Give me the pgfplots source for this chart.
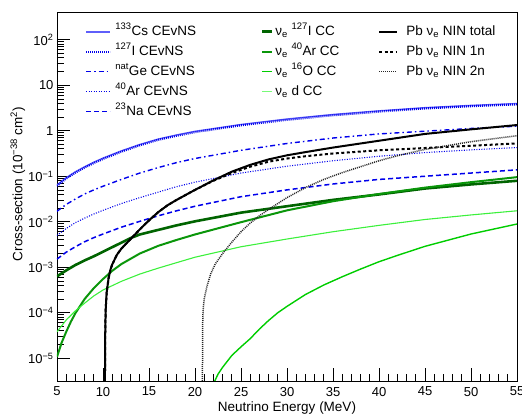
\documentclass[border=0pt]{standalone}
\usepackage{fontspec}
\setmainfont{Liberation Sans}
\usepackage{pgfplots}
\pgfplotsset{compat=1.18}
\usetikzlibrary{calc}

\definecolor{csblue}{RGB}{95,95,250}
\definecolor{iblue}{RGB}{0,0,235}
\definecolor{ngreen}{RGB}{0,100,0}
\definecolor{argreen}{RGB}{10,150,10}
\definecolor{ogreen}{RGB}{0,205,0}
\definecolor{dgreen}{RGB}{60,240,60}

\begin{document}
\begin{tikzpicture}[font=\fontsize{13}{15}\selectfont]
% main axis with CEvNS curves
\begin{axis}[
  name=main,
  scale only axis, width=460pt, height=369pt,
  xmin=5, xmax=55, ymode=log, ymin=3.16e-6, ymax=407,
  xtick={5,10,...,55}, minor x tick num=4,
  ytick={1e-5,1e-4,1e-3,1e-2,1e-1,1,10,100},
  yticklabels={10\textsuperscript{−5},10\textsuperscript{−4},10\textsuperscript{−3},10\textsuperscript{−2},10\textsuperscript{−1},1,10,10\textsuperscript{2}},
  xtick pos=bottom, ytick pos=left, tick align=inside,
  major tick length=13pt, minor tick length=7pt,
  every tick/.style={black, line width=0.7pt},
  axis line style={line width=0.8pt},
  xticklabel style={yshift=-2.5pt},
  /pgf/number format/assume math mode=true,
  xlabel={Neutrino Energy (MeV)},
  ylabel={Cross-section (10\textsuperscript{−38} cm\textsuperscript{2})},
  xlabel style={at={(axis description cs:0.5,-0.073)}, anchor=center, font=\fontsize{13.5}{16}\selectfont},
  ylabel style={at={(axis description cs:-0.085,0.534)}, anchor=center, font=\fontsize{13.5}{16}\selectfont},
  legend cell align=left,
  legend style={at={(axis description cs:0.061,0.967)}, anchor=north west,
    draw=none, fill=none, inner sep=0pt, outer sep=0pt, row sep=5pt, column sep=0pt,
    nodes={inner sep=0pt, text height=11pt, text depth=4pt}, font=\fontsize{13.5}{15}\selectfont},
]
\addplot[color=csblue, line width=1.4pt, forget plot] coordinates {
(5,0.0642)(6,0.0927)(7,0.125)(8,0.161)(9,0.203)(10,0.250)(12,0.361)(14,0.498)(16,0.656)(18,0.807)(20,0.970)(25,1.371)(30,1.808)(35,2.276)(40,2.735)(45,3.214)(50,3.606)(55,3.954)};
\addplot[color=iblue, line width=2.2pt, dash pattern=on 0.9pt off 1.1pt, forget plot] coordinates {
(5,0.0617)(6,0.0891)(7,0.120)(8,0.155)(9,0.195)(10,0.240)(12,0.347)(14,0.479)(16,0.631)(18,0.776)(20,0.933)(25,1.318)(30,1.738)(35,2.188)(40,2.630)(45,3.090)(50,3.467)(55,3.802)};
\addplot[color=iblue, line width=1.4pt, dash pattern=on 5pt off 3pt on 1.5pt off 3pt, forget plot] coordinates {
(5,0.0170)(6,0.0240)(7,0.0316)(8,0.0407)(9,0.0501)(10,0.0603)(12,0.0851)(14,0.1175)(16,0.155)(18,0.1995)(20,0.2455)(25,0.3715)(30,0.5248)(35,0.6918)(40,0.8511)(45,0.977)(50,1.122)(55,1.259)};
\addplot[color=iblue, line width=1.1pt, dash pattern=on 1pt off 1.5pt, forget plot] coordinates {
(5,0.00501)(6,0.00708)(7,0.00955)(8,0.0120)(9,0.0148)(10,0.0178)(12,0.0251)(14,0.0339)(16,0.0447)(18,0.0589)(20,0.0741)(25,0.1175)(30,0.166)(35,0.219)(40,0.275)(45,0.331)(50,0.380)(55,0.427)};
\addplot[color=iblue, line width=1.5pt, dash pattern=on 5pt off 3pt, forget plot] coordinates {
(5,0.00151)(6,0.00214)(7,0.00282)(8,0.00363)(9,0.00447)(10,0.00537)(12,0.00759)(14,0.0102)(16,0.0135)(18,0.0174)(20,0.0219)(25,0.0355)(30,0.0501)(35,0.0676)(40,0.0851)(45,0.100)(50,0.1175)(55,0.138)};
\addlegendimage{legend image code/.code={\draw[draw=csblue, line width=2.0pt] (0pt,0pt) -- (24pt,0pt); \path (29pt,0pt);}}
\addlegendentry{\textsuperscript{133}Cs CEvNS}
\addlegendimage{legend image code/.code={\draw[draw=iblue, line width=2.2pt, dash pattern=on 0.9pt off 1.1pt] (0pt,0pt) -- (24pt,0pt); \path (29pt,0pt);}}
\addlegendentry{\textsuperscript{127}I CEvNS}
\addlegendimage{legend image code/.code={\draw[draw=iblue, line width=1.5pt, dash pattern=on 5pt off 3pt on 1.5pt off 3pt] (0pt,0pt) -- (24pt,0pt); \path (29pt,0pt);}}
\addlegendentry{\textsuperscript{nat}Ge CEvNS}
\addlegendimage{legend image code/.code={\draw[draw=iblue, line width=1.4pt, dash pattern=on 1pt off 1.5pt] (0pt,0pt) -- (24pt,0pt); \path (29pt,0pt);}}
\addlegendentry{\textsuperscript{40}Ar CEvNS}
\addlegendimage{legend image code/.code={\draw[draw=iblue, line width=1.6pt, dash pattern=on 5pt off 3pt] (0pt,0pt) -- (24pt,0pt); \path (29pt,0pt);}}
\addlegendentry{\textsuperscript{23}Na CEvNS}
\end{axis}

% overlay axis with CC curves
\begin{axis}[
  scale only axis, width=460pt, height=369pt, hide axis,
  xmin=5, xmax=55, ymode=log, ymin=3.16e-6, ymax=407,
  legend cell align=left,
  legend style={at={(axis description cs:0.443,0.967)}, anchor=north west,
    draw=none, fill=none, inner sep=0pt, outer sep=0pt, row sep=5pt, column sep=0pt,
    nodes={inner sep=0pt, text height=11pt, text depth=4pt}, font=\fontsize{13.5}{15}\selectfont},
]
\addplot[color=ngreen, line width=2.6pt, forget plot] coordinates {
(5,6.31e-4)(6,8.51e-4)(7,1.12e-3)(8,1.41e-3)(9,1.74e-3)(10,2.19e-3)(12,3.47e-3)(13,4.37e-3)(14,5.25e-3)(16,6.61e-3)(18,8.32e-3)(20,1.02e-2)(25,1.585e-2)(30,2.19e-2)(35,3.02e-2)(40,3.98e-2)(45,5.37e-2)(50,6.61e-2)(55,7.94e-2)};
\addplot[color=argreen, line width=2.0pt, forget plot] coordinates {
(5,1.07e-5)(5.5,2.19e-5)(6,3.80e-5)(6.5,6.31e-5)(7,9.77e-5)(8,2.00e-4)(9,3.47e-4)(10,5.50e-4)(11,8.32e-4)(12,1.175e-3)(14,2.00e-3)(16,2.95e-3)(18,3.98e-3)(20,5.25e-3)(25,9.77e-3)(30,1.78e-2)(35,2.82e-2)(40,4.07e-2)(45,5.62e-2)(50,7.41e-2)(55,9.55e-2)};
\addplot[color=ogreen, line width=1.4pt, forget plot] coordinates {
(22.0,2.0e-6)(22.15,3.16e-6)(22.5,4.47e-6)(23,6.31e-6)(24,1.15e-5)(25,1.78e-5)(26,2.69e-5)(27,4.37e-5)(28,6.76e-5)(29,1.0e-4)(30,1.38e-4)(32,2.51e-4)(34,4.07e-4)(36,6.17e-4)(38,9.12e-4)(40,1.32e-3)(42,1.82e-3)(45,2.88e-3)(50,5.37e-3)(55,8.91e-3)};
\addplot[color=dgreen, line width=1.1pt, forget plot] coordinates {
(5,3.80e-5)(6,6.92e-5)(7,1.10e-4)(8,1.62e-4)(9,2.34e-4)(10,3.16e-4)(12,4.90e-4)(14,7.08e-4)(16,9.55e-4)(18,1.26e-3)(20,1.66e-3)(25,2.82e-3)(30,4.17e-3)(35,6.03e-3)(40,8.32e-3)(45,1.12e-2)(50,1.41e-2)(55,1.74e-2)};
\addlegendimage{legend image code/.code={\draw[draw=ngreen, line width=2.6pt] (0pt,0pt) -- (10pt,0pt); \path (13pt,0pt);}}
\addlegendentry{ν\textsubscript{e} \textsuperscript{127}I CC}
\addlegendimage{legend image code/.code={\draw[draw=argreen, line width=2.0pt] (0pt,0pt) -- (10pt,0pt); \path (13pt,0pt);}}
\addlegendentry{ν\textsubscript{e} \textsuperscript{40}Ar CC}
\addlegendimage{legend image code/.code={\draw[draw=ogreen, line width=1.6pt] (0pt,0pt) -- (10pt,0pt); \path (13pt,0pt);}}
\addlegendentry{ν\textsubscript{e} \textsuperscript{16}O CC}
\addlegendimage{legend image code/.code={\draw[draw={rgb,255:red,120;green,250;blue,120}, line width=1.6pt] (0pt,0pt) -- (10pt,0pt); \path (13pt,0pt);}}
\addlegendentry{ν\textsubscript{e} d CC}
\end{axis}

% overlay axis with Pb NIN curves
\begin{axis}[
  scale only axis, width=460pt, height=369pt, hide axis,
  xmin=5, xmax=55, ymode=log, ymin=3.16e-6, ymax=407,
  legend cell align=left,
  legend style={at={(axis description cs:0.698,0.967)}, anchor=north west,
    draw=none, fill=none, inner sep=0pt, outer sep=0pt, row sep=5pt, column sep=0pt,
    nodes={inner sep=0pt, text height=11pt, text depth=4pt}, font=\fontsize{13.5}{15}\selectfont},
]
\addplot[color=black, line width=2.0pt, forget plot] coordinates {
(10.2,1e-7)(10.22,1e-5)(10.25,5.01e-5)(10.3,1.26e-4)(10.4,2.82e-4)(10.6,5.62e-4)(10.8,8.71e-4)(11.0,1.148e-3)(11.5,1.862e-3)(12,2.570e-3)(13,4.169e-3)(14,6.761e-3)(15,1.072e-2)(16,1.622e-2)(17,2.291e-2)(18,3.020e-2)(19,3.890e-2)(20,5.012e-2)(22,8.128e-2)(24,0.1259)(26,0.1778)(28,0.2344)(30,0.2884)(32,0.3388)(35,0.4266)(40,0.6026)(45,0.8511)(50,1.072)(55,1.334)};
\addplot[color=black, line width=2.0pt, dash pattern=on 3pt off 2.5pt, forget plot] coordinates {
(10.2,1e-7)(10.22,1e-5)(10.25,5.01e-5)(10.3,1.26e-4)(10.4,2.82e-4)(10.6,5.62e-4)(10.8,8.71e-4)(11.0,1.148e-3)(11.5,1.862e-3)(12,2.570e-3)(13,4.169e-3)(14,6.761e-3)(15,1.072e-2)(16,1.622e-2)(17,2.291e-2)(18,3.020e-2)(19,3.890e-2)(20,5.012e-2)(22,7.94e-2)(24,0.1175)(26,0.162)(28,0.209)(30,0.245)(32,0.275)(35,0.316)(40,0.372)(45,0.417)(50,0.468)(55,0.525)};
\addplot[color=black!85, line width=1.5pt, dash pattern=on 1pt off 1pt, forget plot] coordinates {
(20.8,1e-7)(20.82,3.16e-5)(20.85,7.94e-5)(20.9,1.26e-4)(21.0,2.00e-4)(21.3,3.80e-4)(21.7,7.08e-4)(22.2,1.175e-3)(23.0,2.00e-3)(24,3.55e-3)(25,6.03e-3)(26,9.33e-3)(27,1.35e-2)(28,1.86e-2)(30,3.39e-2)(32,5.62e-2)(34,8.51e-2)(36,0.120)(38,0.162)(40,0.219)(42,0.282)(45,0.389)(50,0.575)(55,0.776)};
\addlegendimage{legend image code/.code={\draw[draw=black, line width=2.2pt] (0pt,0pt) -- (18pt,0pt); \path (27pt,0pt);}}
\addlegendentry{Pb ν\textsubscript{e} NIN total}
\addlegendimage{legend image code/.code={\draw[draw=black, line width=2.2pt, dash pattern=on 3pt off 2.5pt] (0pt,0pt) -- (18pt,0pt); \path (27pt,0pt);}}
\addlegendentry{Pb ν\textsubscript{e} NIN 1n}
\addlegendimage{legend image code/.code={\draw[draw=black!85, line width=1.5pt, dash pattern=on 1pt off 1pt] (0pt,0pt) -- (18pt,0pt); \path (27pt,0pt);}}
\addlegendentry{Pb ν\textsubscript{e} NIN 2n}
\end{axis}

\pgfresetboundingbox
\path[use as bounding box] ($(main.south west)+(-57pt,-33pt)$) rectangle ($(main.north east)+(5pt,12pt)$);
\end{tikzpicture}
\end{document}
